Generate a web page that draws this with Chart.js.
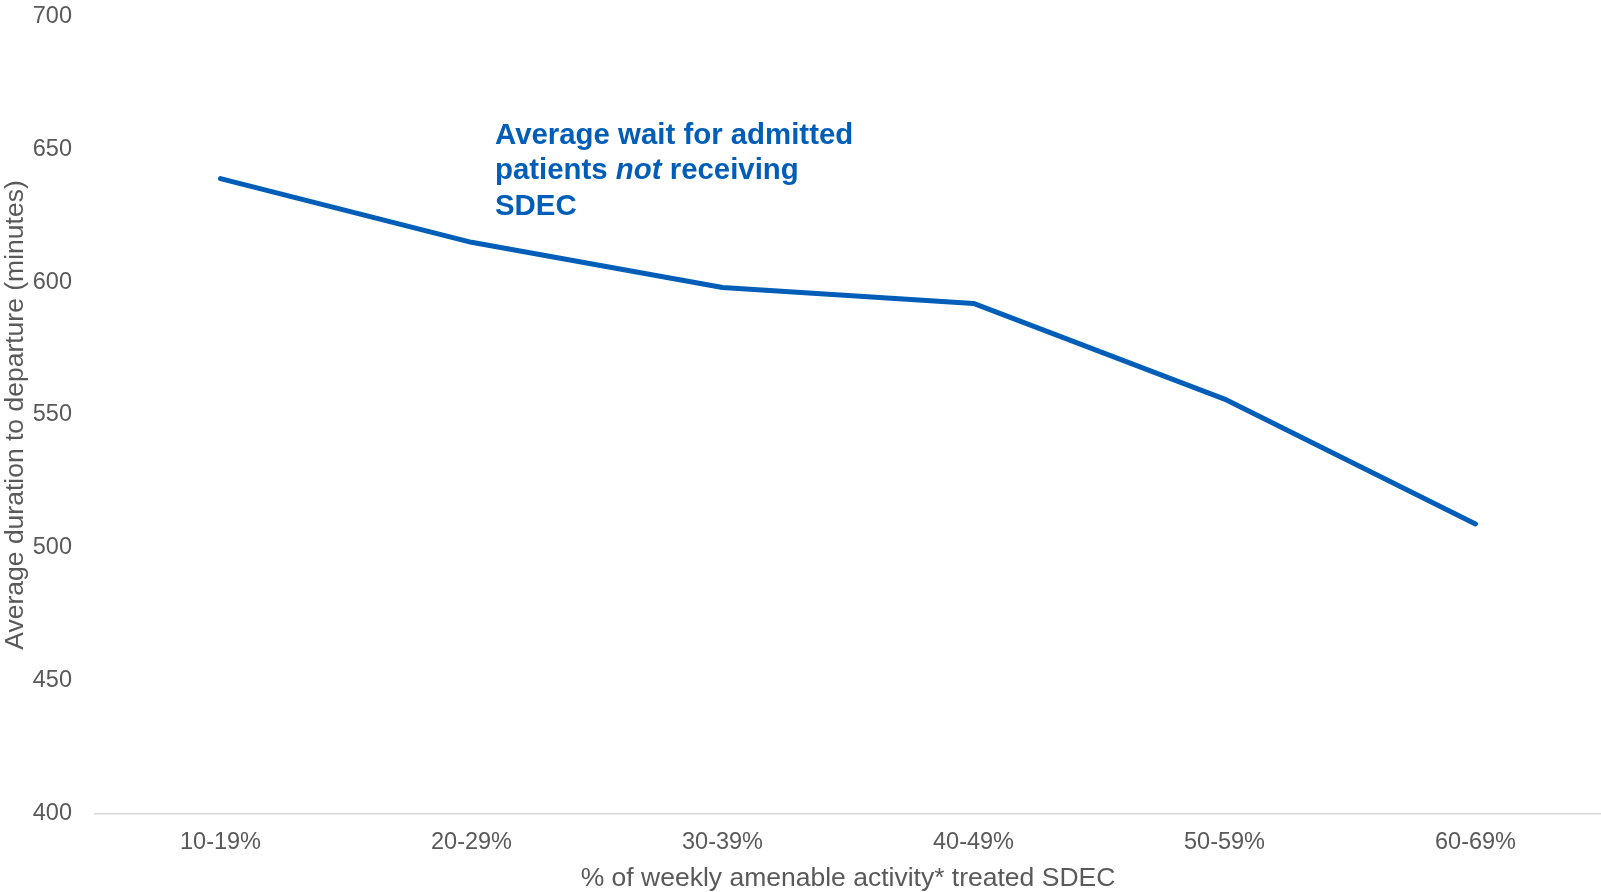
<!DOCTYPE html>
<html>
<head>
<meta charset="utf-8">
<title>Average duration to departure by SDEC share</title>
<script src="https://cdn.jsdelivr.net/npm/chart.js@4/dist/chart.umd.min.js"></script>
<style>
  html, body { margin: 0; padding: 0; background: #ffffff; }
  #wrap { width: 1601px; height: 892px; }
</style>
</head>
<body>
<div id="wrap"><canvas id="c" width="1601" height="892"></canvas></div>
<script>
// Share of weekly amenable activity treated as SDEC
const categories = ['10-19%', '20-29%', '30-39%', '40-49%', '50-59%', '60-69%'];
// Average duration to departure (minutes) for admitted patients not receiving SDEC
const avgWaitMinutes = [639, 615, 598, 592, 556, 509];
// Y axis range and step
const yTicks = [400, 450, 500, 550, 600, 650, 700];
// Callout text, drawn as runs so "not" can be italic
const calloutLines = [
  [{ text: 'Average wait for admitted', italic: false }],
  [{ text: 'patients ', italic: false }, { text: 'not', italic: true }, { text: ' receiving', italic: false }],
  [{ text: 'SDEC', italic: false }]
];

const BLUE = '#005EB8';
const GREY = '#595959';
const FONT = "'Liberation Sans', Arial, Helvetica, sans-serif";

const calloutPlugin = {
  id: 'callout',
  afterDatasetsDraw(chart) {
    const { ctx, chartArea } = chart;
    const size = 29.4;
    const lineGap = 35.6;
    const x0 = chartArea.left + 400;
    let y = chartArea.top + 127;
    ctx.save();
    ctx.fillStyle = BLUE;
    ctx.textBaseline = 'alphabetic';
    ctx.textAlign = 'left';
    calloutLines.forEach(runs => {
      let x = x0;
      runs.forEach(run => {
        ctx.font = (run.italic ? 'italic ' : '') + 'bold ' + size + 'px ' + FONT;
        ctx.fillText(run.text, x, y);
        x += ctx.measureText(run.text).width;
      });
      y += lineGap;
    });
    ctx.restore();
  }
};

new Chart(document.getElementById('c'), {
  type: 'line',
  data: {
    labels: categories,
    datasets: [{
      label: 'Average wait for admitted patients not receiving SDEC',
      data: avgWaitMinutes,
      borderColor: BLUE,
      backgroundColor: BLUE,
      borderWidth: 5,
      borderCapStyle: 'round',
      borderJoinStyle: 'round',
      pointRadius: 0,
      pointHoverRadius: 0,
      tension: 0,
      fill: false
    }]
  },
  options: {
    responsive: false,
    animation: false,
    devicePixelRatio: 1,
    layout: { padding: 0 },
    plugins: {
      legend: { display: false },
      tooltip: { enabled: false },
      title: { display: false }
    },
    scales: {
      x: {
        type: 'category',
        offset: true,
        grid: { display: false, drawTicks: false },
        border: { display: true, color: '#D9D9D9', width: 1.5 },
        ticks: {
          color: GREY,
          font: { family: FONT, size: 23.5 },
          padding: 15,
          maxRotation: 0
        },
        title: {
          display: true,
          text: '% of weekly amenable activity* treated SDEC',
          color: GREY,
          font: { family: FONT, size: 26.5, lineHeight: 1.0 },
          padding: 0
        },
        afterFit(scale) { scale.height = 78.5; }
      },
      y: {
        min: yTicks[0],
        max: yTicks[yTicks.length - 1],
        grid: { display: false, drawTicks: false },
        border: { display: false },
        afterBuildTicks(scale) { scale.ticks = yTicks.map(v => ({ value: v })); },
        ticks: {
          color: GREY,
          font: { family: FONT, size: 23.5 },
          padding: 23
        },
        title: {
          display: true,
          text: 'Average duration to departure (minutes)',
          color: GREY,
          font: { family: FONT, size: 26.5, lineHeight: 1.15 },
          padding: 0
        },
        afterFit(scale) {
          scale.width = 95;
          // room for half of the top tick label only
          scale.paddingTop = 16.5;
        }
      }
    }
  },
  plugins: [calloutPlugin]
});
</script>
</body>
</html>
